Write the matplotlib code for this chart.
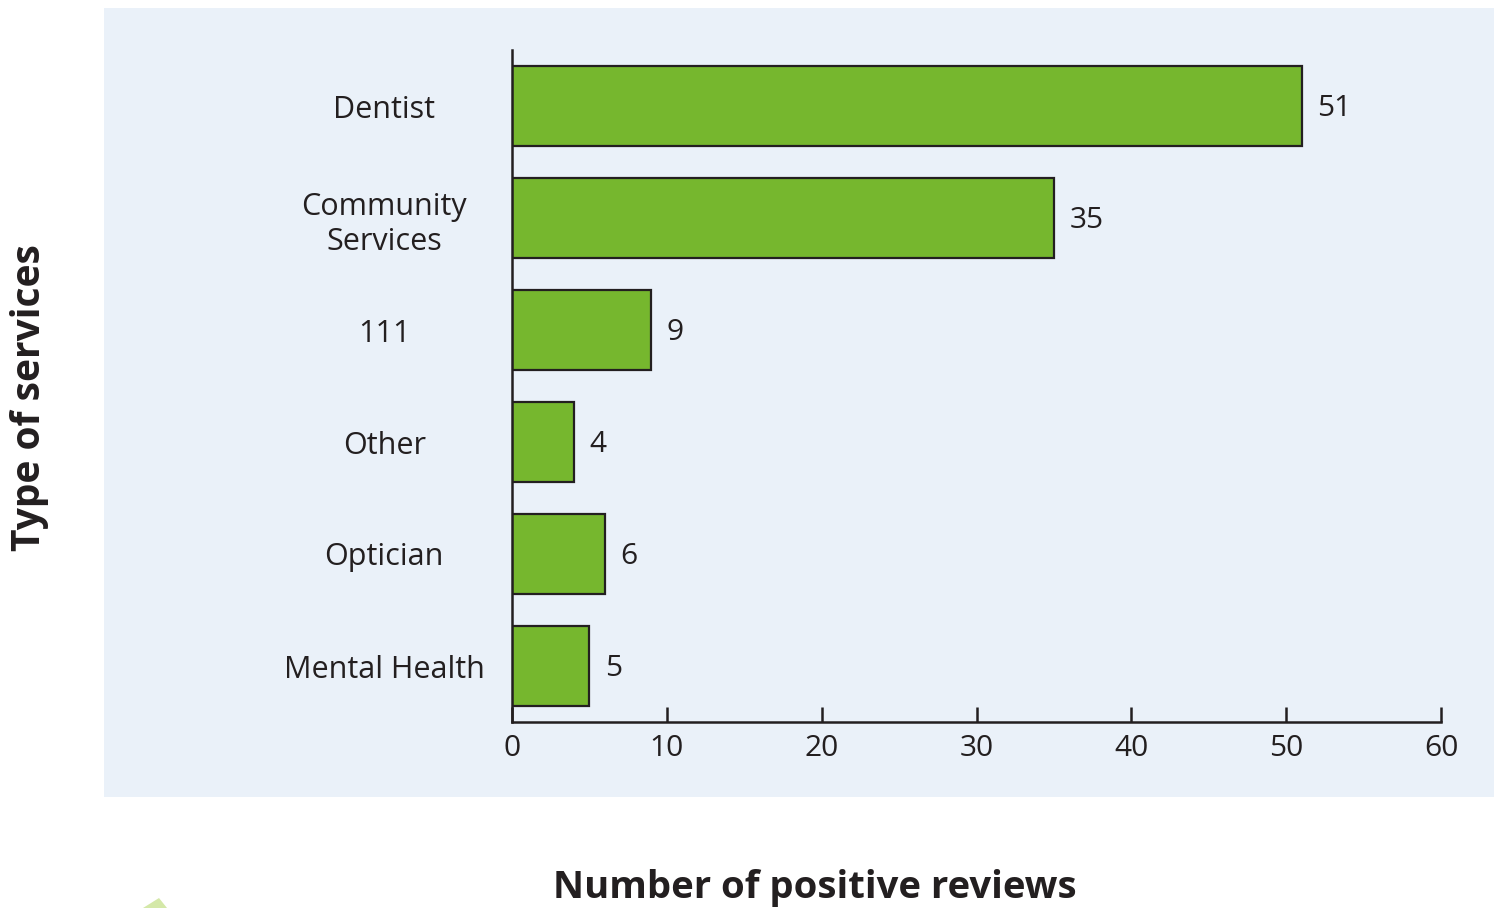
import matplotlib
matplotlib.use('Agg')
import matplotlib.pyplot as plt
from matplotlib.patches import Rectangle, Polygon

# data
services = ['Mental Health', 'Optician', 'Other', '111', 'Community\nServices', 'Dentist']
reviews = [5, 6, 4, 9, 35, 51]
x_ticks = [0, 10, 20, 30, 40, 50, 60]

plt.rcParams['font.family'] = ['Open Sans', 'DejaVu Sans']
dark = '#231F20'

fig = plt.figure(figsize=(14.94, 9.08), dpi=100)
fig.patch.set_facecolor('white')

# light blue panel behind the chart
fig.patches.append(Rectangle((104 / 1494, 1 - 797 / 908), 1 - 104 / 1494, (797 - 8) / 908,
                             transform=fig.transFigure, facecolor='#EAF1F9', edgecolor='none', zorder=-2))
# small decorative triangle at the bottom
fig.patches.append(Polygon([(159 / 1494, 1 - 898 / 908), (143 / 1494, 0), (167 / 1494, 0)],
                           closed=True, transform=fig.transFigure, facecolor='#D4E8A8',
                           edgecolor='none', zorder=-2))

ax = fig.add_axes([512 / 1494, 1 - 722 / 908, (1441 - 512) / 1494, (722 - 50) / 908])
ax.set_facecolor('none')
ax.set_zorder(1)

pos = list(range(len(services)))
ax.barh(pos, reviews, height=0.714, color='#76B72E', edgecolor=dark, linewidth=1.6, zorder=3)

for p, v in zip(pos, reviews):
    ax.annotate(str(v), (v, p), xytext=(11, -2), textcoords='offset points',
                va='center', ha='left', fontsize=21.5, color=dark)

ax.set_xlim(0, 60)
ax.set_ylim(-0.5, 5.5)
ax.set_xticks(x_ticks)
ax.set_xticklabels([str(t) for t in x_ticks], fontsize=21.5, color=dark)
ax.set_yticks(pos)
ax.set_yticklabels(services, fontsize=22, color=dark, ha='center', linespacing=1.25)

ax.tick_params(axis='x', direction='in', length=11, width=1.8, color=dark, pad=9)
ax.tick_params(axis='y', length=0, pad=92)

for s in ['top', 'right']:
    ax.spines[s].set_visible(False)
for s in ['left', 'bottom']:
    ax.spines[s].set_color(dark)
    ax.spines[s].set_linewidth(1.8)
    ax.spines[s].set_zorder(4)

fig.text(30 / 1494, 1 - 398 / 908, 'Type of services', rotation=90, ha='center', va='center',
         fontsize=28, fontweight='bold', color=dark)
fig.text(815 / 1494, 1 - 888 / 908, 'Number of positive reviews', ha='center', va='center',
         fontsize=27.5, fontweight='bold', color=dark)

fig.savefig('out.png', dpi=100)
